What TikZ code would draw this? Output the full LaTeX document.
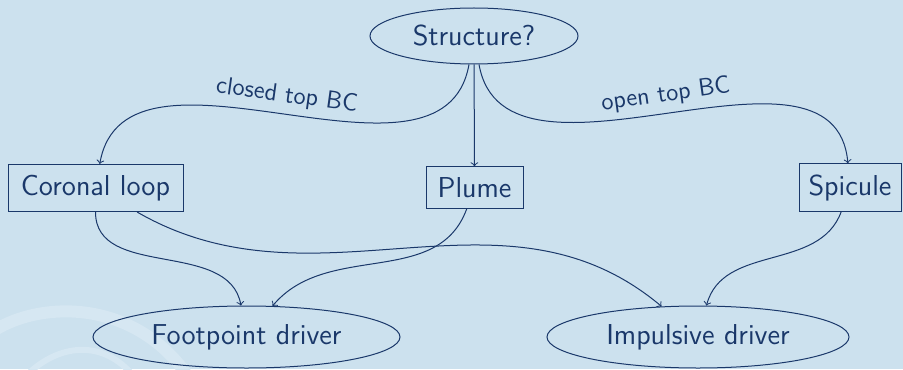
\documentclass[tikz,border=0pt]{standalone}
\usetikzlibrary{shapes.geometric,arrows}
\definecolor{bgblue}{RGB}{204,225,238}
\definecolor{ink}{RGB}{26,56,106}
\definecolor{faint}{RGB}{214,231,242}
\tikzset{
  every picture/.style={x=0.5pt,y=-0.5pt},
  main/.style={font=\sffamily\fontsize{14.4}{17}\selectfont, text=ink, draw=ink, line width=0.5pt},
  boxnode/.style={main, rectangle, inner xsep=0pt, inner ysep=5.3pt},
  ellnode/.style={main, ellipse, inner sep=0pt},
  lbl/.style={font=\sffamily\fontsize{12.4}{14}\selectfont, text=ink, sloped, above},
  conn/.style={->, draw=ink, line width=0.5pt}
}
\begin{document}
\begin{tikzpicture}
\fill[bgblue] (0,0) rectangle (903,369);
\useasboundingbox (0,0) rectangle (903,369);
% faint background motif
\draw[faint, line width=6pt, line cap=round] (-5,330) .. controls (40,302) and (130,298) .. (185,372);
\draw[faint, line width=3pt] (30,372) .. controls (60,345) and (100,340) .. (130,372);

\node[ellnode, minimum width=104pt, minimum height=28pt] (structure) at (474,36) {Structure?};
\node[boxnode, minimum width=87.5pt] (coronal) at (95.5,188) {Coronal loop};
\node[boxnode, minimum width=48.5pt] (plume) at (474.5,187.5) {Plume};
\node[boxnode, minimum width=51pt] (spicule) at (850,187.5) {Spicule};
\node[ellnode, minimum width=153.5pt, minimum height=31pt] (foot) at (246.5,337) {Footpoint driver};
\node[ellnode, minimum width=151pt, minimum height=31pt] (impulse) at (698,337) {Impulsive driver};

\draw[conn] (structure) to[out=-100, in=80] node[lbl] {closed top BC} (coronal);
\draw[conn] (structure) -- (plume);
\draw[conn] (structure) to[out=-80, in=95] node[lbl] {open top BC} (spicule);
\draw[conn] (coronal) to[out=-90, in=100] (foot);
\draw[conn] (coronal) to[out=-30, in=140] (impulse);
\draw[conn] (plume) to[out=-110, in=50] (foot);
\draw[conn] (spicule) to[out=-110, in=75] (impulse);
\end{tikzpicture}
\end{document}
